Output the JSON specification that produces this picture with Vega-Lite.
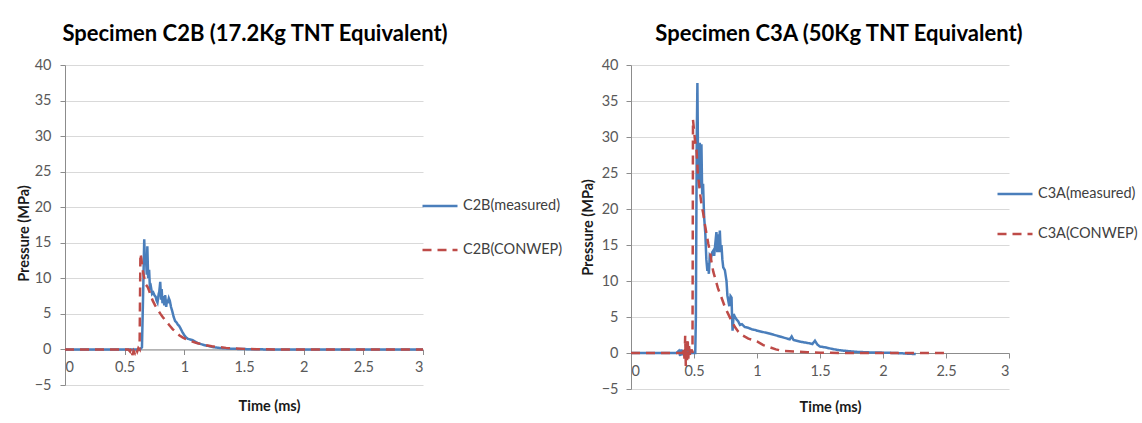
{
  "$schema": "https://vega.github.io/schema/vega-lite/v6.json",
  "background": "white",
  "padding": {"left": 16, "top": 23, "right": 0, "bottom": 0},
  "spacing": 17,
  "config": {
    "font": "Lato",
    "view": {"stroke": null},
    "axis": {
      "labelFont": "Lato", "labelFontSize": 14.5, "labelColor": "#595959",
      "titleFont": "Lato", "titleFontSize": 14.5, "titleFontWeight": "bold", "titleColor": "#1a1a1a",
      "domainColor": "#8c8c8c", "tickColor": "#8c8c8c", "tickSize": 5, "gridColor": "#d9d9d9", "gridWidth": 1.2
    },
    "legend": {"labelFont": "Lato", "labelFontSize": 14.5, "labelColor": "#404040", "padding": 0, "symbolType": "stroke", "symbolSize": 1225, "symbolStrokeWidth": 2.5, "labelOffset": 4, "title": null, "labelLimit": 200}
  },
  "datasets": {
    "c2b": [
      {"t": 0, "p": 0, "series": "C2B(measured)"},
      {"t": 0.3, "p": 0, "series": "C2B(measured)"},
      {"t": 0.63, "p": 0, "series": "C2B(measured)"},
      {"t": 0.645, "p": 0.3, "series": "C2B(measured)"},
      {"t": 0.655, "p": 8, "series": "C2B(measured)"},
      {"t": 0.664, "p": 15.5, "series": "C2B(measured)"},
      {"t": 0.67, "p": 12, "series": "C2B(measured)"},
      {"t": 0.678, "p": 13, "series": "C2B(measured)"},
      {"t": 0.685, "p": 10.5, "series": "C2B(measured)"},
      {"t": 0.69, "p": 14.5, "series": "C2B(measured)"},
      {"t": 0.697, "p": 10, "series": "C2B(measured)"},
      {"t": 0.705, "p": 11.2, "series": "C2B(measured)"},
      {"t": 0.712, "p": 8.5, "series": "C2B(measured)"},
      {"t": 0.72, "p": 8.8, "series": "C2B(measured)"},
      {"t": 0.73, "p": 7.8, "series": "C2B(measured)"},
      {"t": 0.74, "p": 8, "series": "C2B(measured)"},
      {"t": 0.75, "p": 7.6, "series": "C2B(measured)"},
      {"t": 0.76, "p": 7.4, "series": "C2B(measured)"},
      {"t": 0.767, "p": 6.9, "series": "C2B(measured)"},
      {"t": 0.775, "p": 6.6, "series": "C2B(measured)"},
      {"t": 0.785, "p": 7.8, "series": "C2B(measured)"},
      {"t": 0.79, "p": 8.1, "series": "C2B(measured)"},
      {"t": 0.798, "p": 9.5, "series": "C2B(measured)"},
      {"t": 0.805, "p": 7, "series": "C2B(measured)"},
      {"t": 0.81, "p": 8.5, "series": "C2B(measured)"},
      {"t": 0.817, "p": 6.5, "series": "C2B(measured)"},
      {"t": 0.825, "p": 7.5, "series": "C2B(measured)"},
      {"t": 0.832, "p": 6.2, "series": "C2B(measured)"},
      {"t": 0.84, "p": 7.6, "series": "C2B(measured)"},
      {"t": 0.848, "p": 6.0, "series": "C2B(measured)"},
      {"t": 0.855, "p": 7.0, "series": "C2B(measured)"},
      {"t": 0.86, "p": 6.5, "series": "C2B(measured)"},
      {"t": 0.87, "p": 7.2, "series": "C2B(measured)"},
      {"t": 0.879, "p": 6.8, "series": "C2B(measured)"},
      {"t": 0.888, "p": 6.0, "series": "C2B(measured)"},
      {"t": 0.9, "p": 5.3, "series": "C2B(measured)"},
      {"t": 0.91, "p": 4.6, "series": "C2B(measured)"},
      {"t": 0.923, "p": 4.0, "series": "C2B(measured)"},
      {"t": 0.935, "p": 3.8, "series": "C2B(measured)"},
      {"t": 0.945, "p": 3.5, "series": "C2B(measured)"},
      {"t": 0.957, "p": 3.3, "series": "C2B(measured)"},
      {"t": 0.97, "p": 2.9, "series": "C2B(measured)"},
      {"t": 0.985, "p": 2.4, "series": "C2B(measured)"},
      {"t": 1.0, "p": 2.0, "series": "C2B(measured)"},
      {"t": 1.013, "p": 1.7, "series": "C2B(measured)"},
      {"t": 1.03, "p": 1.5, "series": "C2B(measured)"},
      {"t": 1.05, "p": 1.4, "series": "C2B(measured)"},
      {"t": 1.07, "p": 1.3, "series": "C2B(measured)"},
      {"t": 1.09, "p": 1.1, "series": "C2B(measured)"},
      {"t": 1.11, "p": 0.9, "series": "C2B(measured)"},
      {"t": 1.13, "p": 0.8, "series": "C2B(measured)"},
      {"t": 1.17, "p": 0.6, "series": "C2B(measured)"},
      {"t": 1.21, "p": 0.45, "series": "C2B(measured)"},
      {"t": 1.25, "p": 0.3, "series": "C2B(measured)"},
      {"t": 1.3, "p": 0.2, "series": "C2B(measured)"},
      {"t": 1.4, "p": 0.1, "series": "C2B(measured)"},
      {"t": 1.5, "p": 0.05, "series": "C2B(measured)"},
      {"t": 1.7, "p": 0, "series": "C2B(measured)"},
      {"t": 3.0, "p": 0, "series": "C2B(measured)"},
      {"t": 0, "p": 0, "series": "C2B(CONWEP)"},
      {"t": 0.53, "p": 0, "series": "C2B(CONWEP)"},
      {"t": 0.545, "p": -0.3, "series": "C2B(CONWEP)"},
      {"t": 0.555, "p": 0.2, "series": "C2B(CONWEP)"},
      {"t": 0.565, "p": -0.8, "series": "C2B(CONWEP)"},
      {"t": 0.575, "p": -0.2, "series": "C2B(CONWEP)"},
      {"t": 0.585, "p": -0.5, "series": "C2B(CONWEP)"},
      {"t": 0.595, "p": 0.1, "series": "C2B(CONWEP)"},
      {"t": 0.605, "p": -0.3, "series": "C2B(CONWEP)"},
      {"t": 0.615, "p": 0.2, "series": "C2B(CONWEP)"},
      {"t": 0.625, "p": 0, "series": "C2B(CONWEP)"},
      {"t": 0.628, "p": 6, "series": "C2B(CONWEP)"},
      {"t": 0.632, "p": 13.5, "series": "C2B(CONWEP)"},
      {"t": 0.64, "p": 12.8, "series": "C2B(CONWEP)"},
      {"t": 0.65, "p": 11.2, "series": "C2B(CONWEP)"},
      {"t": 0.665, "p": 10, "series": "C2B(CONWEP)"},
      {"t": 0.678, "p": 9.1, "series": "C2B(CONWEP)"},
      {"t": 0.692, "p": 8.8, "series": "C2B(CONWEP)"},
      {"t": 0.706, "p": 8.2, "series": "C2B(CONWEP)"},
      {"t": 0.72, "p": 7.5, "series": "C2B(CONWEP)"},
      {"t": 0.734, "p": 6.9, "series": "C2B(CONWEP)"},
      {"t": 0.755, "p": 6.2, "series": "C2B(CONWEP)"},
      {"t": 0.776, "p": 5.6, "series": "C2B(CONWEP)"},
      {"t": 0.8, "p": 5.0, "series": "C2B(CONWEP)"},
      {"t": 0.817, "p": 4.6, "series": "C2B(CONWEP)"},
      {"t": 0.84, "p": 4.1, "series": "C2B(CONWEP)"},
      {"t": 0.86, "p": 3.7, "series": "C2B(CONWEP)"},
      {"t": 0.88, "p": 3.3, "series": "C2B(CONWEP)"},
      {"t": 0.9, "p": 2.9, "series": "C2B(CONWEP)"},
      {"t": 0.93, "p": 2.4, "series": "C2B(CONWEP)"},
      {"t": 0.957, "p": 2.0, "series": "C2B(CONWEP)"},
      {"t": 0.985, "p": 1.7, "series": "C2B(CONWEP)"},
      {"t": 1.013, "p": 1.45, "series": "C2B(CONWEP)"},
      {"t": 1.05, "p": 1.2, "series": "C2B(CONWEP)"},
      {"t": 1.097, "p": 0.95, "series": "C2B(CONWEP)"},
      {"t": 1.14, "p": 0.75, "series": "C2B(CONWEP)"},
      {"t": 1.18, "p": 0.6, "series": "C2B(CONWEP)"},
      {"t": 1.23, "p": 0.45, "series": "C2B(CONWEP)"},
      {"t": 1.29, "p": 0.33, "series": "C2B(CONWEP)"},
      {"t": 1.35, "p": 0.22, "series": "C2B(CONWEP)"},
      {"t": 1.4, "p": 0.15, "series": "C2B(CONWEP)"},
      {"t": 1.5, "p": 0.08, "series": "C2B(CONWEP)"},
      {"t": 1.6, "p": 0.04, "series": "C2B(CONWEP)"},
      {"t": 1.8, "p": 0, "series": "C2B(CONWEP)"},
      {"t": 3.0, "p": 0, "series": "C2B(CONWEP)"}
    ],
    "c3a": [
      {"t": 0, "p": 0, "series": "C3A(measured)"},
      {"t": 0.36, "p": 0, "series": "C3A(measured)"},
      {"t": 0.38, "p": 0.3, "series": "C3A(measured)"},
      {"t": 0.39, "p": -0.4, "series": "C3A(measured)"},
      {"t": 0.4, "p": 0.5, "series": "C3A(measured)"},
      {"t": 0.41, "p": -0.3, "series": "C3A(measured)"},
      {"t": 0.42, "p": 0.4, "series": "C3A(measured)"},
      {"t": 0.43, "p": -0.5, "series": "C3A(measured)"},
      {"t": 0.44, "p": 0.3, "series": "C3A(measured)"},
      {"t": 0.45, "p": -0.2, "series": "C3A(measured)"},
      {"t": 0.46, "p": 0.2, "series": "C3A(measured)"},
      {"t": 0.48, "p": 0, "series": "C3A(measured)"},
      {"t": 0.51, "p": 0, "series": "C3A(measured)"},
      {"t": 0.515, "p": 5, "series": "C3A(measured)"},
      {"t": 0.522, "p": 30, "series": "C3A(measured)"},
      {"t": 0.527, "p": 37.5, "series": "C3A(measured)"},
      {"t": 0.532, "p": 27, "series": "C3A(measured)"},
      {"t": 0.538, "p": 24, "series": "C3A(measured)"},
      {"t": 0.546, "p": 29.2, "series": "C3A(measured)"},
      {"t": 0.552, "p": 23, "series": "C3A(measured)"},
      {"t": 0.559, "p": 29, "series": "C3A(measured)"},
      {"t": 0.565, "p": 22, "series": "C3A(measured)"},
      {"t": 0.572, "p": 23.5, "series": "C3A(measured)"},
      {"t": 0.58, "p": 19, "series": "C3A(measured)"},
      {"t": 0.59, "p": 16.5, "series": "C3A(measured)"},
      {"t": 0.598, "p": 13, "series": "C3A(measured)"},
      {"t": 0.606, "p": 11.4, "series": "C3A(measured)"},
      {"t": 0.612, "p": 12.5, "series": "C3A(measured)"},
      {"t": 0.618, "p": 11, "series": "C3A(measured)"},
      {"t": 0.625, "p": 13.5, "series": "C3A(measured)"},
      {"t": 0.635, "p": 13.2, "series": "C3A(measured)"},
      {"t": 0.645, "p": 14, "series": "C3A(measured)"},
      {"t": 0.652, "p": 14.2, "series": "C3A(measured)"},
      {"t": 0.66, "p": 13.5, "series": "C3A(measured)"},
      {"t": 0.668, "p": 15, "series": "C3A(measured)"},
      {"t": 0.678, "p": 16.8, "series": "C3A(measured)"},
      {"t": 0.685, "p": 14, "series": "C3A(measured)"},
      {"t": 0.692, "p": 16.5, "series": "C3A(measured)"},
      {"t": 0.698, "p": 14, "series": "C3A(measured)"},
      {"t": 0.705, "p": 17, "series": "C3A(measured)"},
      {"t": 0.712, "p": 14, "series": "C3A(measured)"},
      {"t": 0.718, "p": 15, "series": "C3A(measured)"},
      {"t": 0.725, "p": 13, "series": "C3A(measured)"},
      {"t": 0.732, "p": 11.9, "series": "C3A(measured)"},
      {"t": 0.745, "p": 11.5, "series": "C3A(measured)"},
      {"t": 0.758, "p": 10, "series": "C3A(measured)"},
      {"t": 0.765, "p": 8, "series": "C3A(measured)"},
      {"t": 0.772, "p": 7.3, "series": "C3A(measured)"},
      {"t": 0.78, "p": 6.5, "series": "C3A(measured)"},
      {"t": 0.79, "p": 7.9, "series": "C3A(measured)"},
      {"t": 0.798, "p": 7.7, "series": "C3A(measured)"},
      {"t": 0.802, "p": 5, "series": "C3A(measured)"},
      {"t": 0.806, "p": 3.1, "series": "C3A(measured)"},
      {"t": 0.815, "p": 5.4, "series": "C3A(measured)"},
      {"t": 0.825, "p": 5, "series": "C3A(measured)"},
      {"t": 0.84, "p": 4.6, "series": "C3A(measured)"},
      {"t": 0.851, "p": 4.4, "series": "C3A(measured)"},
      {"t": 0.865, "p": 3.9, "series": "C3A(measured)"},
      {"t": 0.88, "p": 4.0, "series": "C3A(measured)"},
      {"t": 0.904, "p": 3.6, "series": "C3A(measured)"},
      {"t": 0.93, "p": 3.5, "series": "C3A(measured)"},
      {"t": 0.958, "p": 3.3, "series": "C3A(measured)"},
      {"t": 0.985, "p": 3.2, "series": "C3A(measured)"},
      {"t": 1.0, "p": 3.1, "series": "C3A(measured)"},
      {"t": 1.05, "p": 2.9, "series": "C3A(measured)"},
      {"t": 1.1, "p": 2.7, "series": "C3A(measured)"},
      {"t": 1.15, "p": 2.45, "series": "C3A(measured)"},
      {"t": 1.2, "p": 2.2, "series": "C3A(measured)"},
      {"t": 1.26, "p": 1.9, "series": "C3A(measured)"},
      {"t": 1.275, "p": 2.3, "series": "C3A(measured)"},
      {"t": 1.29, "p": 1.8, "series": "C3A(measured)"},
      {"t": 1.35, "p": 1.55, "series": "C3A(measured)"},
      {"t": 1.4, "p": 1.4, "series": "C3A(measured)"},
      {"t": 1.44, "p": 1.25, "series": "C3A(measured)"},
      {"t": 1.46, "p": 1.7, "series": "C3A(measured)"},
      {"t": 1.48, "p": 1.15, "series": "C3A(measured)"},
      {"t": 1.5, "p": 0.9, "series": "C3A(measured)"},
      {"t": 1.55, "p": 0.75, "series": "C3A(measured)"},
      {"t": 1.6, "p": 0.55, "series": "C3A(measured)"},
      {"t": 1.65, "p": 0.4, "series": "C3A(measured)"},
      {"t": 1.7, "p": 0.3, "series": "C3A(measured)"},
      {"t": 1.8, "p": 0.15, "series": "C3A(measured)"},
      {"t": 1.9, "p": 0.08, "series": "C3A(measured)"},
      {"t": 2.0, "p": 0.05, "series": "C3A(measured)"},
      {"t": 2.1, "p": 0, "series": "C3A(measured)"},
      {"t": 2.26, "p": -0.15, "series": "C3A(measured)"},
      {"t": 0, "p": 0, "series": "C3A(CONWEP)"},
      {"t": 0.41, "p": 0, "series": "C3A(CONWEP)"},
      {"t": 0.42, "p": 0.8, "series": "C3A(CONWEP)"},
      {"t": 0.425, "p": -1.2, "series": "C3A(CONWEP)"},
      {"t": 0.43, "p": 2.4, "series": "C3A(CONWEP)"},
      {"t": 0.435, "p": -1.8, "series": "C3A(CONWEP)"},
      {"t": 0.44, "p": 1.5, "series": "C3A(CONWEP)"},
      {"t": 0.445, "p": -1.0, "series": "C3A(CONWEP)"},
      {"t": 0.45, "p": 2.0, "series": "C3A(CONWEP)"},
      {"t": 0.455, "p": -0.8, "series": "C3A(CONWEP)"},
      {"t": 0.46, "p": 1.0, "series": "C3A(CONWEP)"},
      {"t": 0.47, "p": -0.5, "series": "C3A(CONWEP)"},
      {"t": 0.48, "p": 0.5, "series": "C3A(CONWEP)"},
      {"t": 0.488, "p": 0, "series": "C3A(CONWEP)"},
      {"t": 0.49, "p": 15, "series": "C3A(CONWEP)"},
      {"t": 0.492, "p": 32.4, "series": "C3A(CONWEP)"},
      {"t": 0.5, "p": 31, "series": "C3A(CONWEP)"},
      {"t": 0.508, "p": 29.5, "series": "C3A(CONWEP)"},
      {"t": 0.519, "p": 28.5, "series": "C3A(CONWEP)"},
      {"t": 0.53, "p": 25, "series": "C3A(CONWEP)"},
      {"t": 0.546, "p": 22.5, "series": "C3A(CONWEP)"},
      {"t": 0.56, "p": 20.5, "series": "C3A(CONWEP)"},
      {"t": 0.572, "p": 19.5, "series": "C3A(CONWEP)"},
      {"t": 0.586, "p": 17.9, "series": "C3A(CONWEP)"},
      {"t": 0.6, "p": 16.5, "series": "C3A(CONWEP)"},
      {"t": 0.613, "p": 15.2, "series": "C3A(CONWEP)"},
      {"t": 0.626, "p": 14.2, "series": "C3A(CONWEP)"},
      {"t": 0.64, "p": 12.5, "series": "C3A(CONWEP)"},
      {"t": 0.653, "p": 11.3, "series": "C3A(CONWEP)"},
      {"t": 0.666, "p": 10.5, "series": "C3A(CONWEP)"},
      {"t": 0.69, "p": 9.0, "series": "C3A(CONWEP)"},
      {"t": 0.718, "p": 7.7, "series": "C3A(CONWEP)"},
      {"t": 0.745, "p": 6.4, "series": "C3A(CONWEP)"},
      {"t": 0.772, "p": 5.4, "series": "C3A(CONWEP)"},
      {"t": 0.8, "p": 4.4, "series": "C3A(CONWEP)"},
      {"t": 0.825, "p": 3.6, "series": "C3A(CONWEP)"},
      {"t": 0.85, "p": 3.0, "series": "C3A(CONWEP)"},
      {"t": 0.88, "p": 2.5, "series": "C3A(CONWEP)"},
      {"t": 0.931, "p": 2.0, "series": "C3A(CONWEP)"},
      {"t": 0.97, "p": 1.8, "series": "C3A(CONWEP)"},
      {"t": 1.0, "p": 1.6, "series": "C3A(CONWEP)"},
      {"t": 1.05, "p": 1.1, "series": "C3A(CONWEP)"},
      {"t": 1.1, "p": 0.8, "series": "C3A(CONWEP)"},
      {"t": 1.15, "p": 0.5, "series": "C3A(CONWEP)"},
      {"t": 1.2, "p": 0.3, "series": "C3A(CONWEP)"},
      {"t": 1.3, "p": 0.2, "series": "C3A(CONWEP)"},
      {"t": 1.4, "p": 0.1, "series": "C3A(CONWEP)"},
      {"t": 1.5, "p": 0.05, "series": "C3A(CONWEP)"},
      {"t": 1.7, "p": 0, "series": "C3A(CONWEP)"},
      {"t": 2.49, "p": 0, "series": "C3A(CONWEP)"}
    ]
  },
  "resolve": {"scale": {"color": "independent", "strokeDash": "independent"}},
  "hconcat": [
    {
      "width": 358,
      "height": 320,
      "title": {"text": "Specimen C2B (17.2Kg TNT Equivalent)", "frame": "group", "anchor": "middle", "dx": 11, "fontSize": 22, "fontWeight": "bold", "font": "Lato", "color": "#000000", "offset": 11},
      "data": {"name": "c2b"},
      "mark": {"type": "line", "strokeWidth": 2.5},
      "encoding": {
        "x": {"field": "t", "type": "quantitative", "scale": {"domain": [0, 3], "nice": false},
          "axis": {"values": [0, 0.5, 1, 1.5, 2, 2.5, 3], "format": "~g", "offset": -35.5, "grid": false, "labelPadding": 6, "title": "Time (ms)", "titleX": 204, "titleY": 57, "titleBaseline": "middle"}},
        "y": {"field": "p", "type": "quantitative", "scale": {"domain": [-5, 40], "nice": false},
          "axis": {"values": [-5, 0, 5, 10, 15, 20, 25, 30, 35, 40], "grid": true, "labelPadding": 9, "title": "Pressure (MPa)", "titleX": -41, "titleY": 168, "titleBaseline": "middle"}},
        "color": {"field": "series", "type": "nominal", "scale": {"domain": ["C2B(measured)", "C2B(CONWEP)"], "range": ["#4A7EBB", "#BE4B48"]},
          "legend": {"orient": "none", "legendX": 356, "legendY": 122, "rowPadding": 18}},
        "strokeDash": {"field": "series", "type": "nominal", "scale": {"domain": ["C2B(measured)", "C2B(CONWEP)"], "range": [[1, 0], [9, 6]]},
          "legend": {"orient": "none", "legendX": 356, "legendY": 122, "rowPadding": 18}}
      }
    },
    {
      "width": 378,
      "height": 324,
      "title": {"text": "Specimen C3A (50Kg TNT Equivalent)", "frame": "group", "anchor": "middle", "dx": 19, "fontSize": 22, "fontWeight": "bold", "font": "Lato", "color": "#000000", "offset": 11},
      "data": {"name": "c3a"},
      "mark": {"type": "line", "strokeWidth": 2.5},
      "encoding": {
        "x": {"field": "t", "type": "quantitative", "scale": {"domain": [0, 3], "nice": false},
          "axis": {"values": [0, 0.5, 1, 1.5, 2, 2.5, 3], "format": "~g", "offset": -36, "grid": false, "labelPadding": 6, "title": "Time (ms)", "titleX": 199, "titleY": 54, "titleBaseline": "middle"}},
        "y": {"field": "p", "type": "quantitative", "scale": {"domain": [-5, 40], "nice": false},
          "axis": {"values": [-5, 0, 5, 10, 15, 20, 25, 30, 35, 40], "grid": true, "labelPadding": 8, "title": "Pressure (MPa)", "titleX": -43, "titleY": 162, "titleBaseline": "middle"}},
        "color": {"field": "series", "type": "nominal", "scale": {"domain": ["C3A(measured)", "C3A(CONWEP)"], "range": ["#4A7EBB", "#BE4B48"]},
          "legend": {"orient": "none", "legendX": 365, "legendY": 110, "rowPadding": 14}},
        "strokeDash": {"field": "series", "type": "nominal", "scale": {"domain": ["C3A(measured)", "C3A(CONWEP)"], "range": [[1, 0], [9, 6]]},
          "legend": {"orient": "none", "legendX": 365, "legendY": 110, "rowPadding": 14}}
      }
    }
  ]
}
